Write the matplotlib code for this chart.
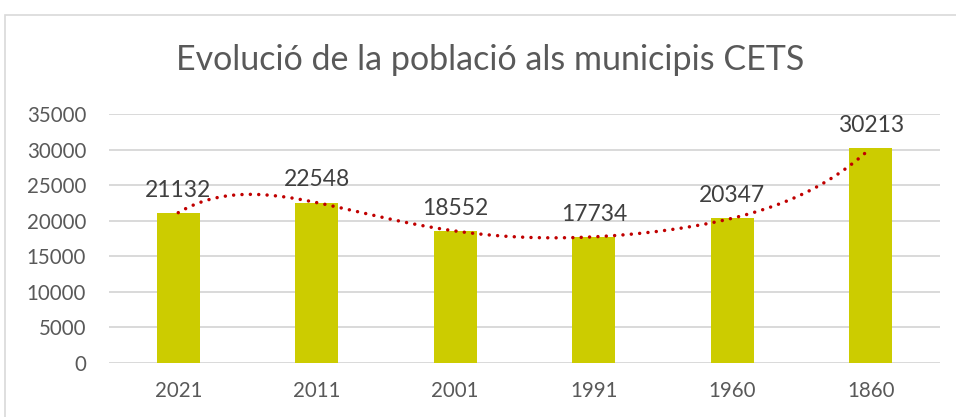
import numpy as np
import matplotlib
matplotlib.use("Agg")
import matplotlib.pyplot as plt
from matplotlib.patches import Rectangle

anys = ["2021", "2011", "2001", "1991", "1960", "1860"]
poblacio = [21132, 22548, 18552, 17734, 20347, 30213]
ticks_y = [0, 5000, 10000, 15000, 20000, 25000, 30000, 35000]

plt.rcParams['font.family'] = ['Lato', 'DejaVu Sans']

fig = plt.figure(figsize=(9.56, 4.17), dpi=100)
fig.patch.set_facecolor('white')

# marc del grafic
fig.patches.append(Rectangle((5/956, -0.1), 1.2, 1.1 - 15/417,
                             transform=fig.transFigure, fill=False,
                             edgecolor='#D9D9D9', linewidth=1.2))

ax = fig.add_axes([109/956, 1 - 363/417, 831/956, 249/417])
x = np.arange(len(anys))
ax.bar(x, poblacio, width=0.31, color='#CCCC00', zorder=2)

# linia de tendencia polinomica (com la d'Excel)
coef = np.polyfit(x + 1, poblacio, 5)
xs = np.linspace(0, len(anys) - 1, 300)
ax.plot(xs, np.polyval(coef, xs + 1), color='#C00000', linewidth=2.5,
        linestyle=(0, (0.01, 2.4)), dash_capstyle='round', zorder=3)

for xi, v in zip(x, poblacio):
    ax.text(xi, v + 1700, str(v), ha='center', va='bottom', fontsize=16.5,
            color='#404040', zorder=4)

ax.set_xlim(-0.5, len(anys) - 0.5)
ax.set_ylim(0, 35000)
ax.set_yticks(ticks_y)
ax.set_yticklabels([str(t) for t in ticks_y])
ax.set_xticks(x)
ax.set_xticklabels(anys)
ax.tick_params(axis='both', length=0, labelsize=14.8, labelcolor='#595959')
ax.tick_params(axis='x', pad=13)
ax.tick_params(axis='y', pad=16.5)
ax.grid(axis='y', color='#D9D9D9', linewidth=1.4, zorder=0)
ax.set_axisbelow(True)
for s in ax.spines.values():
    s.set_visible(False)

fig.text(490/956, 1 - 60/417, "Evolució de la població als municipis CETS",
         ha='center', va='center', fontsize=24.5, color='#595959')

fig.savefig("out.png", dpi=100)
